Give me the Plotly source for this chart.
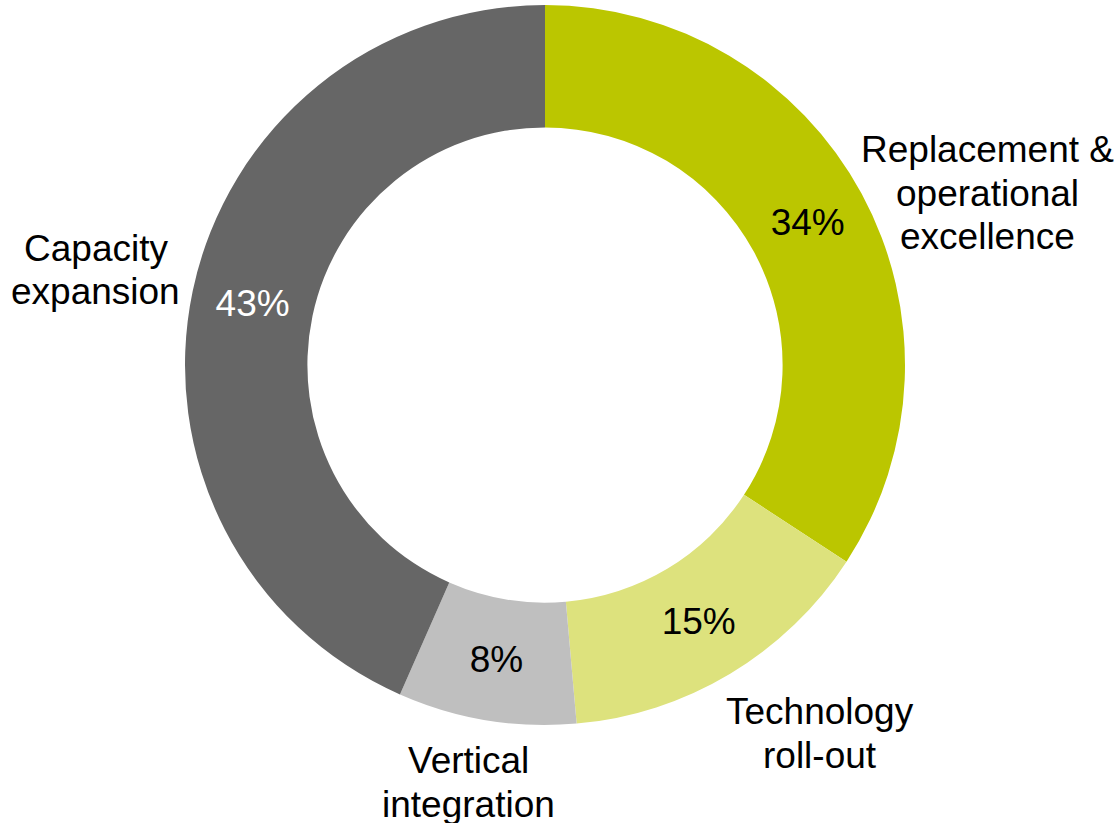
import plotly.graph_objects as go

labels = ["Replacement &<br>operational<br>excellence", "Technology<br>roll-out", "Vertical<br>integration", "Capacity<br>expansion"]
values = [34.2, 14.4, 8.0, 43.4]
pct_text = ["34%", "15%", "8%", "43%"]
colors = ["#BBC600", "#DDE27D", "#BFBFBF", "#666666"]
text_colors = ["#000000", "#000000", "#000000", "#FFFFFF"]
# label group centres in pixels (x, y) for the outside labels
label_pos = [(987, 193), (820, 733), (469, 782), (96, 270)]

W, H = 1118, 823
cx, cy, r = 545, 365, 360
FONT = "Liberation Sans, Arial"
LINE_GAP = 44

fig = go.Figure(go.Pie(
    values=values,
    labels=labels,
    text=pct_text,
    textinfo="text",
    textposition="inside",
    insidetextorientation="horizontal",
    hole=0.66,
    sort=False,
    direction="clockwise",
    rotation=0,
    marker=dict(colors=colors, line=dict(width=0)),
    textfont=dict(family=FONT, size=37, color=text_colors),
    domain=dict(x=[(cx - r) / W, (cx + r) / W], y=[1 - (cy + r) / H, 1 - (cy - r) / H]),
    showlegend=False,
    hoverinfo="skip",
))

for lab, (px, py) in zip(labels, label_pos):
    lines = lab.split("<br>")
    n = len(lines)
    for i, line in enumerate(lines):
        ly = py + (i - (n - 1) / 2) * LINE_GAP
        fig.add_annotation(
            x=px / W, y=1 - ly / H, xref="paper", yref="paper",
            text=line, showarrow=False, xanchor="center", yanchor="middle",
            font=dict(family=FONT, size=37, color="#000000"),
            align="center",
        )

fig.update_layout(
    width=W, height=H,
    margin=dict(l=0, r=0, t=0, b=0),
    paper_bgcolor="white", plot_bgcolor="white",
    uniformtext=dict(minsize=37, mode="show"),
)

fig.write_html("out.html")
